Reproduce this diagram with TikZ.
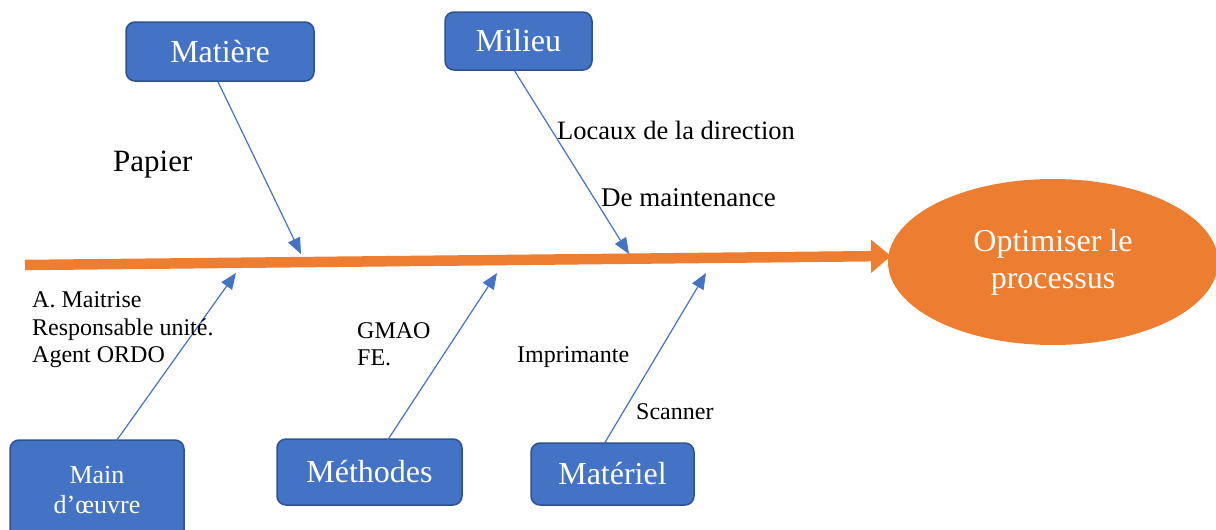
\documentclass[tikz,border=0pt]{standalone}
\usepackage{fontspec}
\setmainfont{Liberation Serif}
\usetikzlibrary{arrows.meta,calc,shapes.geometric}
\definecolor{catblue}{HTML}{4472C4}
\definecolor{catedge}{HTML}{2F528F}
\definecolor{spineorange}{HTML}{ED7D31}
\tikzset{
  cause/.style={draw=catedge, line width=1.5pt, fill=catblue, rounded corners=9pt,
    text=white, font=\fontsize{32}{36}\selectfont, inner sep=0pt, align=center},
  label/.style={anchor=west, inner sep=0pt, text=black, align=left},
  feed/.style={draw=catblue, line width=1.2pt, -{Triangle[length=16pt,width=13pt]}},
}
\begin{document}
\begin{tikzpicture}[x=1pt, y=-1pt]
\clip (0,0) rectangle (1216,530);
\fill[white] (0,0) rectangle (1216,530);

% effect
\node[ellipse, fill=spineorange, minimum width=330pt, minimum height=166pt, inner sep=0pt,
      text=white, font=\fontsize{32}{37}\selectfont, align=center] (goal) at (1053,262)
      {Optimiser le\\processus};

% main spine
\coordinate (sA) at (25,265);
\coordinate (sB) at (891,256);
\draw[spineorange, line width=10.5pt, -{Triangle[length=20pt,width=32pt]}] (sA) -- (sB);

% cause boxes
\node[cause, minimum width=188pt, minimum height=59pt] (mat) at (220,51.5) {Matière};
\node[cause, minimum width=147pt, minimum height=58pt] (mil) at (518.5,41) {Milieu};
\node[cause, minimum width=174pt, minimum height=100pt, font=\fontsize{26}{30}\selectfont] (mo) at (97,490) {Main\\d’œuvre};
\node[cause, minimum width=185pt, minimum height=66pt] (met) at (369.5,472) {Méthodes};
\node[cause, minimum width=163pt, minimum height=62pt] (mtl) at (612.5,474) {Matériel};

% points on the spine
\coordinate (pMat) at (301,254);
\coordinate (pMil) at (629,254);
\coordinate (pMo) at (236,273);
\coordinate (pMet) at (497,273);
\coordinate (pMtl) at (706,273);

% branches
\draw[feed] (mat.south) ++(-2,0) -- (pMat);
\draw[feed] (mil.south) ++(-4,0) -- (pMil);
\draw[feed] ($(mo.north)+(19,2)$) -- (pMo);
\draw[feed] ($(met.north)+(18,2)$) -- (pMet);
\draw[feed] ($(mtl.north)+(-8,1)$) -- (pMtl);

% sub-causes
\node[label, font=\fontsize{31}{34}\selectfont] (papier) at (113,165) {Papier};
\node[label, font=\fontsize{26.5}{30}\selectfont] (loc) at (557,130) {Locaux de la direction};
\node[label, font=\fontsize{27}{30}\selectfont] (dem) at (601,198) {De maintenance};
\node[label, font=\fontsize{24}{27.5}\selectfont] (mo1) at (32,330) {A. Maitrise\\Responsable unité.\\Agent ORDO};
\node[label, font=\fontsize{24}{27.5}\selectfont] (gm) at (357,344) {GMAO\\FE.};
\node[label, font=\fontsize{24}{27.5}\selectfont] (imp) at (517,357) {Imprimante};
\node[label, font=\fontsize{24}{27.5}\selectfont] (scan) at (636,412) {Scanner};
\end{tikzpicture}
\end{document}
